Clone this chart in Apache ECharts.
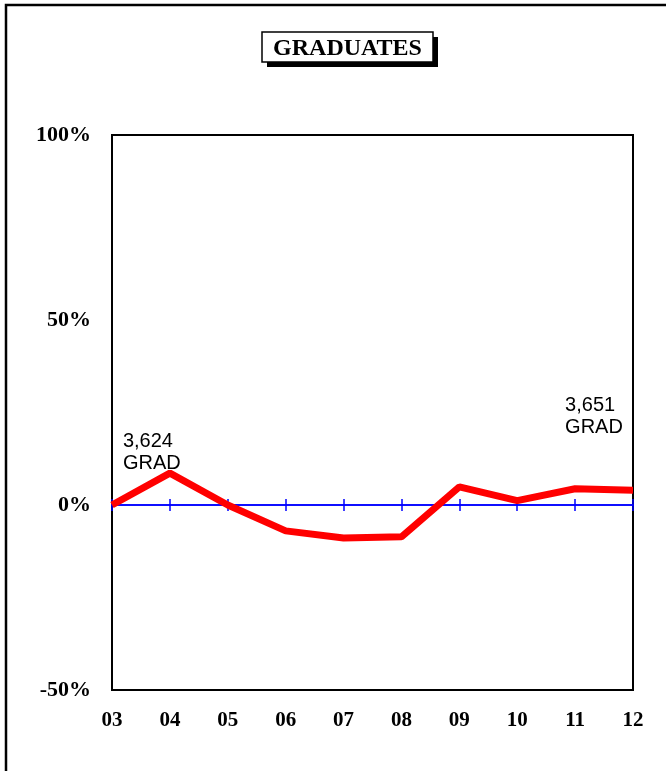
<!DOCTYPE html>
<html>
<head>
<meta charset="utf-8">
<script src="https://cdn.jsdelivr.net/npm/echarts@6/dist/echarts.min.js"></script>
<style>html,body{margin:0;padding:0;background:#fff;}#c{width:666px;height:771px;}</style>
</head>
<body>
<div id="c"></div>
<script>
const categories = ['03','04','05','06','07','08','09','10','11','12'];
const values = [0, 8.6, 0, -7.0, -8.9, -8.6, 4.9, 1.2, 4.4, 4.0];
const annotations = [
  { index: 1, text: '3,624\nGRAD' },
  { index: 8, text: '3,651\nGRAD' }
];
const yMin = -50, yMax = 100, yInterval = 50;
const titleText = 'GRADUATES';

const annMap = {};
annotations.forEach(a => annMap[a.index] = a.text);
const seriesData = values.map((v, i) => {
  if (annMap[i] === undefined) return v;
  return {
    value: v,
    symbol: 'circle',
    symbolSize: 1,
    itemStyle: { color: 'rgba(0,0,0,0)' },
    label: {
      show: true,
      position: 'top',
      formatter: annMap[i],
      fontFamily: 'Liberation Sans, Arial, sans-serif',
      fontSize: 20,
      lineHeight: 22,
      color: '#000',
      align: 'left',
      offset: i === 1 ? [-47, 7] : [-10, -45]
    }
  };
});

const serif = 'Liberation Serif, Times New Roman, serif';
const chart = echarts.init(document.getElementById('c'), null, { renderer: 'canvas' });
chart.setOption({
  animation: false,
  backgroundColor: '#fff',
  grid: { left: 112, top: 135, width: 521, height: 555, show: true, borderColor: '#000', borderWidth: 2, backgroundColor: 'transparent' },
  graphic: [
    { type: 'rect', shape: { x: 6, y: 5, width: 700, height: 800 }, style: { fill: 'none', stroke: '#000', lineWidth: 2.5 }, z: 0 },
    { type: 'rect', shape: { x: 267, y: 37, width: 171, height: 30 }, style: { fill: '#000' }, z: 10 },
    { type: 'rect', shape: { x: 262, y: 32, width: 171, height: 30 }, style: { fill: '#fff', stroke: '#000', lineWidth: 1.5 }, z: 11 },
    { type: 'text', x: 347.5, y: 49, style: { text: titleText, font: 'bold 24px ' + serif, fill: '#000', textAlign: 'center', textVerticalAlign: 'middle' }, z: 12 }
  ],
  xAxis: [
    {
      type: 'category', data: categories, boundaryGap: false, position: 'bottom',
      axisLine: { onZero: false, show: true, lineStyle: { color: '#000', width: 2 } },
      axisTick: { show: false },
      axisLabel: { margin: 20, fontFamily: serif, fontWeight: 'bold', fontSize: 21, color: '#000' },
      splitLine: { show: false },
      z: 3
    },
    {
      type: 'category', data: categories, boundaryGap: false, position: 'bottom',
      axisLine: { onZero: true, onZeroAxisIndex: 0, show: true, lineStyle: { color: '#0000ff', width: 1.5 } },
      axisTick: { show: true, inside: true, length: 6, interval: 0, lineStyle: { color: '#0000ff', width: 1.5 } },
      axisLabel: { show: false },
      splitLine: { show: false }
    },
    {
      type: 'category', data: categories, boundaryGap: false, position: 'top',
      axisLine: { onZero: true, onZeroAxisIndex: 1, show: true, lineStyle: { color: '#0000ff', width: 1.5 } },
      axisTick: { show: true, inside: true, length: 6, interval: 0, lineStyle: { color: '#0000ff', width: 1.5 } },
      axisLabel: { show: false },
      splitLine: { show: false }
    }
  ],
  yAxis: [
    {
      type: 'value', min: yMin, max: yMax, interval: yInterval,
      axisLine: { show: true, onZero: false, lineStyle: { color: '#000', width: 2 } },
      axisTick: { show: false },
      splitLine: { show: false },
      axisLabel: { margin: 21, formatter: '{value}%', fontFamily: serif, fontWeight: 'bold', fontSize: 22, color: '#000' }
    },
    {
      type: 'value', min: yMin, max: yMax, interval: yInterval, position: 'right',
      axisLine: { show: false, onZero: false },
      axisTick: { show: false },
      splitLine: { show: false },
      axisLabel: { show: false }
    }
  ],
  series: [{
    type: 'line',
    xAxisIndex: 0,
    yAxisIndex: 0,
    data: seriesData,
    showSymbol: true,
    symbol: 'none',
    lineStyle: { color: '#ff0000', width: 7 },
    z: 5
  }]
});
</script>
</body>
</html>
